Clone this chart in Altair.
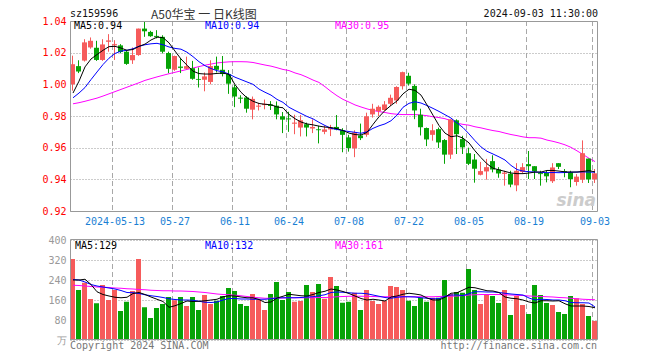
import altair as alt
import pandas as pd

# ---------------- data ----------------
dates = [
    "2024-04-29", "2024-04-30", "2024-05-06", "2024-05-07", "2024-05-08", "2024-05-09", "2024-05-10",
    "2024-05-13", "2024-05-14", "2024-05-15", "2024-05-16", "2024-05-17", "2024-05-20", "2024-05-21",
    "2024-05-22", "2024-05-23", "2024-05-24", "2024-05-27", "2024-05-28", "2024-05-29", "2024-05-30",
    "2024-05-31", "2024-06-03", "2024-06-04", "2024-06-05", "2024-06-06", "2024-06-07", "2024-06-11",
    "2024-06-12", "2024-06-13", "2024-06-14", "2024-06-17", "2024-06-18", "2024-06-19", "2024-06-20",
    "2024-06-21", "2024-06-24", "2024-06-25", "2024-06-26", "2024-06-27", "2024-06-28", "2024-07-01",
    "2024-07-02", "2024-07-03", "2024-07-04", "2024-07-05", "2024-07-08", "2024-07-09", "2024-07-10",
    "2024-07-11", "2024-07-12", "2024-07-15", "2024-07-16", "2024-07-17", "2024-07-18", "2024-07-19",
    "2024-07-22", "2024-07-23", "2024-07-24", "2024-07-25", "2024-07-26", "2024-07-29", "2024-07-30",
    "2024-07-31", "2024-08-01", "2024-08-02", "2024-08-05", "2024-08-06", "2024-08-07", "2024-08-08",
    "2024-08-09", "2024-08-12", "2024-08-13", "2024-08-14", "2024-08-15", "2024-08-16", "2024-08-19",
    "2024-08-20", "2024-08-21", "2024-08-22", "2024-08-23", "2024-08-26", "2024-08-27", "2024-08-28",
    "2024-08-29", "2024-08-30", "2024-09-02", "2024-09-03",
]
opens = [
    1.0000, 1.0115, 1.0150, 1.0233, 1.0231, 1.0154, 1.0269, 1.0246, 1.0246, 1.0206,
    1.0152, 1.0185, 1.0352, 1.0331, 1.0306, 1.0300, 1.0198, 1.0092, 1.0112, 1.0098,
    1.0102, 1.0033, 1.0029, 1.0015, 1.0117, 1.0092, 1.0065, 0.9981, 0.9915, 0.9917,
    0.9840, 0.9860, 0.9869, 0.9873, 0.9865, 0.9798, 0.9783, 0.9752, 0.9727, 0.9748,
    0.9721, 0.9715, 0.9700, 0.9715, 0.9731, 0.9710, 0.9665, 0.9596, 0.9677, 0.9681,
    0.9810, 0.9831, 0.9838, 0.9877, 0.9898, 0.9988, 1.0054, 0.9990, 0.9808, 0.9724,
    0.9681, 0.9717, 0.9648, 0.9556, 0.9773, 0.9654, 0.9565, 0.9525, 0.9429, 0.9450,
    0.9515, 0.9462, 0.9435, 0.9435, 0.9362, 0.9446, 0.9496, 0.9483, 0.9440, 0.9440,
    0.9388, 0.9502, 0.9452, 0.9444, 0.9383, 0.9398, 0.9531, 0.9400,
]
highs = [
    1.0181, 1.0152, 1.0285, 1.0296, 1.0275, 1.0285, 1.0317, 1.0279, 1.0254, 1.0217,
    1.0233, 1.0352, 1.0398, 1.0338, 1.0342, 1.0310, 1.0206, 1.0181, 1.0165, 1.0175,
    1.0148, 1.0106, 1.0075, 1.0152, 1.0175, 1.0179, 1.0090, 0.9998, 0.9931, 0.9925,
    0.9923, 0.9883, 0.9904, 0.9894, 0.9892, 0.9825, 0.9827, 0.9808, 0.9806, 0.9758,
    0.9779, 0.9738, 0.9738, 0.9744, 0.9806, 0.9723, 0.9681, 0.9710, 0.9752, 0.9821,
    0.9877, 0.9867, 0.9894, 0.9935, 0.9988, 1.0080, 1.0073, 1.0000, 0.9846, 0.9727,
    0.9748, 0.9727, 0.9654, 0.9779, 0.9779, 0.9675, 0.9600, 0.9560, 0.9510, 0.9529,
    0.9552, 0.9477, 0.9454, 0.9454, 0.9502, 0.9502, 0.9579, 0.9483, 0.9454, 0.9454,
    0.9502, 0.9502, 0.9465, 0.9454, 0.9433, 0.9646, 0.9531, 0.9465,
]
lows = [
    0.9960, 1.0071, 1.0144, 1.0225, 1.0148, 1.0148, 1.0206, 1.0154, 1.0196, 1.0123,
    1.0129, 1.0180, 1.0300, 1.0300, 1.0290, 1.0195, 1.0071, 1.0085, 1.0071, 1.0096,
    1.0029, 0.9980, 0.9956, 1.0000, 1.0075, 1.0050, 0.9940, 0.9856, 0.9881, 0.9821,
    0.9779, 0.9835, 0.9842, 0.9838, 0.9779, 0.9692, 0.9700, 0.9685, 0.9671, 0.9671,
    0.9692, 0.9627, 0.9685, 0.9673, 0.9710, 0.9571, 0.9575, 0.9540, 0.9648, 0.9669,
    0.9790, 0.9800, 0.9831, 0.9863, 0.9877, 0.9967, 0.9992, 0.9780, 0.9677, 0.9610,
    0.9644, 0.9598, 0.9498, 0.9529, 0.9560, 0.9560, 0.9490, 0.9379, 0.9425, 0.9398,
    0.9444, 0.9410, 0.9360, 0.9350, 0.9325, 0.9440, 0.9402, 0.9402, 0.9360, 0.9381,
    0.9377, 0.9465, 0.9413, 0.9350, 0.9360, 0.9377, 0.9377, 0.9377,
]
closes = [
    1.0127, 1.0081, 1.0265, 1.0275, 1.0154, 1.0252, 1.0275, 1.0252, 1.0204, 1.0129,
    1.0185, 1.0352, 1.0335, 1.0304, 1.0300, 1.0206, 1.0098, 1.0179, 1.0106, 1.0115,
    1.0035, 1.0031, 1.0050, 1.0115, 1.0092, 1.0065, 1.0004, 0.9923, 0.9912, 0.9846,
    0.9908, 0.9863, 0.9877, 0.9863, 0.9810, 0.9777, 0.9781, 0.9756, 0.9773, 0.9727,
    0.9731, 0.9713, 0.9715, 0.9727, 0.9715, 0.9681, 0.9598, 0.9696, 0.9660, 0.9798,
    0.9846, 0.9858, 0.9873, 0.9915, 0.9983, 1.0077, 1.0004, 0.9835, 0.9729, 0.9652,
    0.9710, 0.9633, 0.9556, 0.9779, 0.9685, 0.9602, 0.9498, 0.9467, 0.9452, 0.9477,
    0.9462, 0.9437, 0.9440, 0.9367, 0.9454, 0.9477, 0.9483, 0.9450, 0.9436, 0.9419,
    0.9475, 0.9479, 0.9448, 0.9402, 0.9417, 0.9565, 0.9400, 0.9438,
]
ma5 = [
    0.9945, 1.0020, 1.0110, 1.0160, 1.0188, 1.0215, 1.0238, 1.0240, 1.0229, 1.0215,
    1.0220, 1.0240, 1.0254, 1.0280, 1.0298, 1.0295, 1.0262, 1.0210, 1.0160, 1.0121,
    1.0083, 1.0068, 1.0065, 1.0065, 1.0069, 1.0071, 1.0063, 0.9998, 0.9950, 0.9915,
    0.9893, 0.9879, 0.9874, 0.9871, 0.9857, 0.9852, 0.9810, 0.9783, 0.9762, 0.9750,
    0.9744, 0.9736, 0.9730, 0.9727, 0.9720, 0.9708, 0.9692, 0.9683, 0.9680, 0.9696,
    0.9747, 0.9795, 0.9835, 0.9867, 0.9895, 0.9940, 0.9969, 0.9962, 0.9932, 0.9870,
    0.9805, 0.9740, 0.9692, 0.9669, 0.9675, 0.9660, 0.9630, 0.9580, 0.9537, 0.9498,
    0.9470, 0.9460, 0.9450, 0.9440, 0.9436, 0.9436, 0.9440, 0.9446, 0.9446, 0.9456,
    0.9456, 0.9452, 0.9447, 0.9446, 0.9446, 0.9450, 0.9455, 0.9447,
]
ma10 = [
    0.9915, 0.9945, 0.9980, 1.0030, 1.0078, 1.0125, 1.0165, 1.0195, 1.0210, 1.0215,
    1.0225, 1.0240, 1.0250, 1.0256, 1.0259, 1.0250, 1.0236, 1.0227, 1.0222, 1.0203,
    1.0175, 1.0143, 1.0118, 1.0100, 1.0086, 1.0079, 1.0065, 1.0045, 1.0030, 1.0015,
    1.0000, 0.9970, 0.9950, 0.9932, 0.9905, 0.9886, 0.9855, 0.9835, 0.9816, 0.9797,
    0.9782, 0.9760, 0.9740, 0.9722, 0.9715, 0.9708, 0.9702, 0.9697, 0.9691, 0.9700,
    0.9722, 0.9738, 0.9750, 0.9770, 0.9805, 0.9855, 0.9880, 0.9890, 0.9882, 0.9866,
    0.9848, 0.9829, 0.9808, 0.9787, 0.9756, 0.9727, 0.9687, 0.9644, 0.9605, 0.9577,
    0.9560, 0.9542, 0.9522, 0.9488, 0.9462, 0.9452, 0.9448, 0.9446, 0.9444, 0.9442,
    0.9443, 0.9442, 0.9443, 0.9445, 0.9446, 0.9447, 0.9446, 0.9445,
]
ma30 = [
    0.9877, 0.9884, 0.9893, 0.9903, 0.9913, 0.9926, 0.9940, 0.9954, 0.9968, 0.9982,
    0.9996, 1.0010, 1.0025, 1.0036, 1.0047, 1.0057, 1.0067, 1.0076, 1.0085, 1.0094,
    1.0103, 1.0112, 1.0121, 1.0128, 1.0135, 1.0139, 1.0142, 1.0143, 1.0143, 1.0142,
    1.0138, 1.0130, 1.0122, 1.0115, 1.0105, 1.0094, 1.0087, 1.0072, 1.0061, 1.0045,
    1.0027, 1.0012, 0.9985, 0.9955, 0.9928, 0.9905, 0.9888, 0.9870, 0.9857, 0.9845,
    0.9835, 0.9828, 0.9822, 0.9815, 0.9811, 0.9809, 0.9809, 0.9809, 0.9806, 0.9802,
    0.9795, 0.9790, 0.9783, 0.9770, 0.9755, 0.9747, 0.9742, 0.9732, 0.9725, 0.9716,
    0.9708, 0.9702, 0.9692, 0.9683, 0.9676, 0.9668, 0.9663, 0.9663, 0.9660, 0.9648,
    0.9640, 0.9630, 0.9618, 0.9602, 0.9580, 0.9557, 0.9533, 0.9512,
]
vol = [
    324, 200, 229, 164, 147, 220, 160, 200, 116, 153,
    196, 324, 131, 88, 128, 144, 172, 159, 172, 136,
    172, 120, 180, 144, 157, 176, 208, 196, 144, 136,
    184, 160, 120, 184, 232, 160, 192, 153, 156, 220,
    192, 224, 165, 252, 216, 149, 153, 189, 120, 200,
    156, 144, 156, 216, 212, 200, 157, 136, 169, 153,
    169, 169, 240, 184, 192, 189, 284, 200, 144, 184,
    176, 148, 200, 100, 176, 140, 104, 220, 180, 148,
    140, 112, 104, 176, 167, 144, 96, 76,
]
vma5 = [
    240, 240, 243, 222, 193, 182, 176, 171, 169, 171,
    186, 190, 182, 172, 163, 154, 131, 137, 146, 156,
    154, 155, 157, 160, 163, 173, 177, 176, 172, 169,
    169, 162, 150, 152, 168, 175, 183, 180, 177, 176,
    182, 190, 195, 204, 200, 194, 186, 176, 166, 160,
    163, 160, 156, 172, 176, 183, 187, 184, 180, 168,
    160, 160, 171, 187, 189, 200, 211, 209, 203, 197,
    196, 190, 172, 167, 165, 160, 152, 148, 157, 157,
    156, 157, 145, 136, 136, 136, 134, 129,
]
vma10 = [
    242, 240, 232, 222, 216, 212, 208, 204, 198, 190,
    189, 186, 181, 177, 174, 170, 165, 162, 160, 160,
    159, 155, 151, 150, 152, 160, 166, 166, 164, 164,
    163, 163, 163, 165, 168, 169, 169, 169, 170, 172,
    173, 177, 181, 190, 192, 191, 189, 187, 187, 185,
    180, 175, 170, 167, 171, 173, 173, 172, 169, 167,
    165, 165, 175, 180, 180, 178, 185, 193, 193, 192,
    192, 190, 187, 184, 182, 180, 168, 160, 163, 162,
    160, 160, 157, 150, 149, 149, 148, 132,
]
vma30 = [
    219, 218, 216, 214, 212, 211, 210, 208, 207, 205,
    204, 202, 201, 199, 198, 197, 197, 196, 196, 195,
    194, 192, 190, 187, 184, 182, 181, 179, 177, 174,
    171, 169, 167, 167, 168, 168, 169, 169, 169, 169,
    169, 170, 170, 171, 173, 174, 175, 175, 175, 175,
    174, 173, 173, 173, 173, 173, 173, 173, 173, 173,
    173, 174, 175, 175, 176, 178, 180, 181, 182, 182,
    182, 182, 181, 180, 179, 178, 176, 175, 174, 173,
    172, 170, 169, 167, 165, 163, 162, 161,
]
tick_dates = ["2024-05-13", "2024-05-27", "2024-06-11", "2024-06-24", "2024-07-08",
              "2024-07-22", "2024-08-05", "2024-08-19", "2024-09-03"]
price_ticks = [0.92, 0.94, 0.96, 0.98, 1.00, 1.02, 1.04]
vol_ticks = [0, 80, 160, 240, 320, 400]

code_text = "sz159596"
title_text = "A50华宝 一 日K线图"
time_text = "2024-09-03 11:30:00"
price_ma_labels = ["MA5:0.94", "MA10:0.94", "MA30:0.95"]
vol_ma_labels = ["MA5:129", "MA10:132", "MA30:161"]
footer_left = "Copyright 2024 SINA.COM"
footer_right = "http://finance.sina.com.cn"

# ---------------- layout / style ----------------
W, PH, GAP, VH = 528, 190, 29, 100
H = PH + GAP + VH
RED, GREEN = "#f65b5b", "#06a306"
BLUE, MAG = "#0000ff", "#ff00ff"
MONO = "DejaVu Sans Mono"
GRID = "#a8a8a8"

df = pd.DataFrame(dict(date=dates, open=opens, high=highs, low=lows, close=closes,
                       ma5=ma5, ma10=ma10, ma30=ma30, vol=vol,
                       vma5=vma5, vma10=vma10, vma30=vma30))
df["dir"] = ["up" if c >= o else "down" for o, c in zip(opens, closes)]
tdf = pd.DataFrame({"date": tick_dates})
tdf["ptop"], tdf["pbot"], tdf["vtop"], tdf["vbot"] = 1.04, 0.92, 400, 0
fdf = pd.DataFrame({"ptop": [1.04], "pbot": [0.92], "vtop": [400], "vbot": [0]})

xsc = alt.Scale(type="band", domain=dates, paddingInner=0, paddingOuter=0)
xaxis = alt.Axis(orient="bottom", offset=-(H - PH), values=tick_dates, bandPosition=0,
                 labelExpr="datum.value == '2024-05-13' ? datum.value : slice(datum.value, 5)",
                 labelFont=MONO, labelFontSize=10, labelColor="#1a7fd4", labelPadding=5,
                 labelAngle=0, labelAlign="center", labelBaseline="top",
                 labelOverlap=False, labelBound=False, domain=False, ticks=False, tickSize=0,
                 grid=False, title=None)
X = alt.X("date:O", scale=xsc, axis=xaxis)
XG = alt.X("date:O", scale=xsc, axis=xaxis, bandPosition=0)

psc = alt.Scale(domain=[0.92, 1.04], range=[PH, 0], nice=False, zero=False)
vsc = alt.Scale(domain=[0, 400], range=[H, PH + GAP], nice=False)
paxis = alt.Axis(orient="left", values=price_ticks, format=".2f", labelFont=MONO, labelFontSize=10,
                 labelColor="#ff0000", labelPadding=4, domain=False, ticks=False, tickSize=0,
                 grid=True, gridColor="#999999", gridDash=[1, 2], gridWidth=1, title=None,
                 labelOverlap=False)
vaxis = alt.Axis(orient="left", values=vol_ticks, labelExpr="datum.value == 0 ? '万' : datum.label",
                 labelFont=MONO, labelFontSize=10, labelColor="#999999", labelPadding=4,
                 domain=False, ticks=False, tickSize=0, grid=True, gridColor="#999999",
                 gridDash=[1, 2], gridWidth=1, title=None, labelOverlap=False)
col = alt.Color("dir:N", scale=alt.Scale(domain=["up", "down"], range=[RED, GREEN]), legend=None)

base = alt.Chart(df)

# price panel
p_vgrid = alt.Chart(tdf).mark_rule(color=GRID, strokeDash=[5, 3], strokeWidth=1, xOffset=0.5).encode(
    x=XG, y=alt.Y("ptop:Q", scale=psc, axis=paxis), y2="pbot:Q")
wick = base.mark_rule(strokeWidth=1, xOffset=-0.5).encode(
    x=X, y=alt.Y("low:Q", scale=psc, axis=paxis), y2="high:Q", color=col)
body = base.mark_bar(width=5, xOffset=-0.5).encode(
    x=X, y=alt.Y("open:Q", scale=psc, axis=paxis), y2="close:Q", color=col)
doji = base.transform_filter("abs(datum.close - datum.open) < 0.0008").mark_tick(
    thickness=1, size=5, xOffset=-0.5).encode(x=X, y=alt.Y("close:Q", scale=psc, axis=paxis), color=col)


def pline(field, color):
    return base.mark_line(color=color, strokeWidth=1).encode(
        x=X, y=alt.Y(f"{field}:Q", scale=psc, axis=paxis))


p_frame = alt.Chart(fdf).mark_rect(fillOpacity=0, stroke="#999999", strokeWidth=1, yOffset=0.5, y2Offset=0.5).encode(
    x=alt.value(0.5), x2=alt.value(W - 0.5), y=alt.Y("ptop:Q", scale=psc, axis=paxis), y2="pbot:Q")
price = alt.layer(p_vgrid, pline("ma30", MAG), wick, body, doji, pline("ma10", BLUE), pline("ma5", "black"), p_frame)

# volume panel
v_vgrid = alt.Chart(tdf).mark_rule(color=GRID, strokeDash=[5, 3], strokeWidth=1, xOffset=0.5).encode(
    x=XG, y=alt.Y("vtop:Q", scale=vsc, axis=vaxis), y2="vbot:Q")
vbars = base.mark_bar(width=5, xOffset=-0.5).encode(
    x=X, y=alt.Y("vol:Q", scale=vsc, axis=vaxis), color=col)


def vline(field, color):
    return base.mark_line(color=color, strokeWidth=1).encode(
        x=X, y=alt.Y(f"{field}:Q", scale=vsc, axis=vaxis))


v_frame = alt.Chart(fdf).mark_rect(fillOpacity=0, stroke="#999999", strokeWidth=1, yOffset=-0.5, y2Offset=-0.5).encode(
    x=alt.value(0.5), x2=alt.value(W - 0.5), y=alt.Y("vtop:Q", scale=vsc, axis=vaxis), y2="vbot:Q")
volume = alt.layer(v_vgrid, vbars, vline("vma30", MAG), vline("vma10", BLUE), vline("vma5", "black"), v_frame)


# text annotations
def label(text, x, y, color, align="left", size=10, font=MONO, **kw):
    return alt.Chart(pd.DataFrame({"t": [text]})).mark_text(
        align=align, baseline="middle", color=color, font=font, fontSize=size, **kw).encode(
        text="t:N", x=alt.value(x), y=alt.value(y))


texts = [
    label(code_text, 0, -7, "#111111"),
    label(title_text, 81, -6, "#333333", size=12, font="Noto Sans CJK SC"),
    label(time_text, W, -7, "#111111", align="right"),
    label(price_ma_labels[0], 4, 5, "black"),
    label(price_ma_labels[1], 135, 5, BLUE),
    label(price_ma_labels[2], 265, 5, MAG),
    label(vol_ma_labels[0], 5, PH + GAP + 6, "black"),
    label(vol_ma_labels[1], 135, PH + GAP + 6, BLUE),
    label(vol_ma_labels[2], 265, PH + GAP + 6, MAG),
    label(footer_left, 0, H + 6, "#777777"),
    label(footer_right, W - 1, H + 6, "#777777", align="right"),
    label("sina", W - 2, PH - 10, "#cccccc", align="right", size=17, font="DejaVu Sans",
          fontStyle="italic", fontWeight="bold"),
]

chart = alt.layer(price, volume, *texts).resolve_scale(y="independent").properties(
    width=W, height=H,
    padding={"left": 62, "top": 13, "right": 46, "bottom": 20},
    autosize=alt.AutoSizeParams(type="none"),
).configure_view(stroke=None)

chart.save("out.html", embed_options={"renderer": "svg", "actions": False})
